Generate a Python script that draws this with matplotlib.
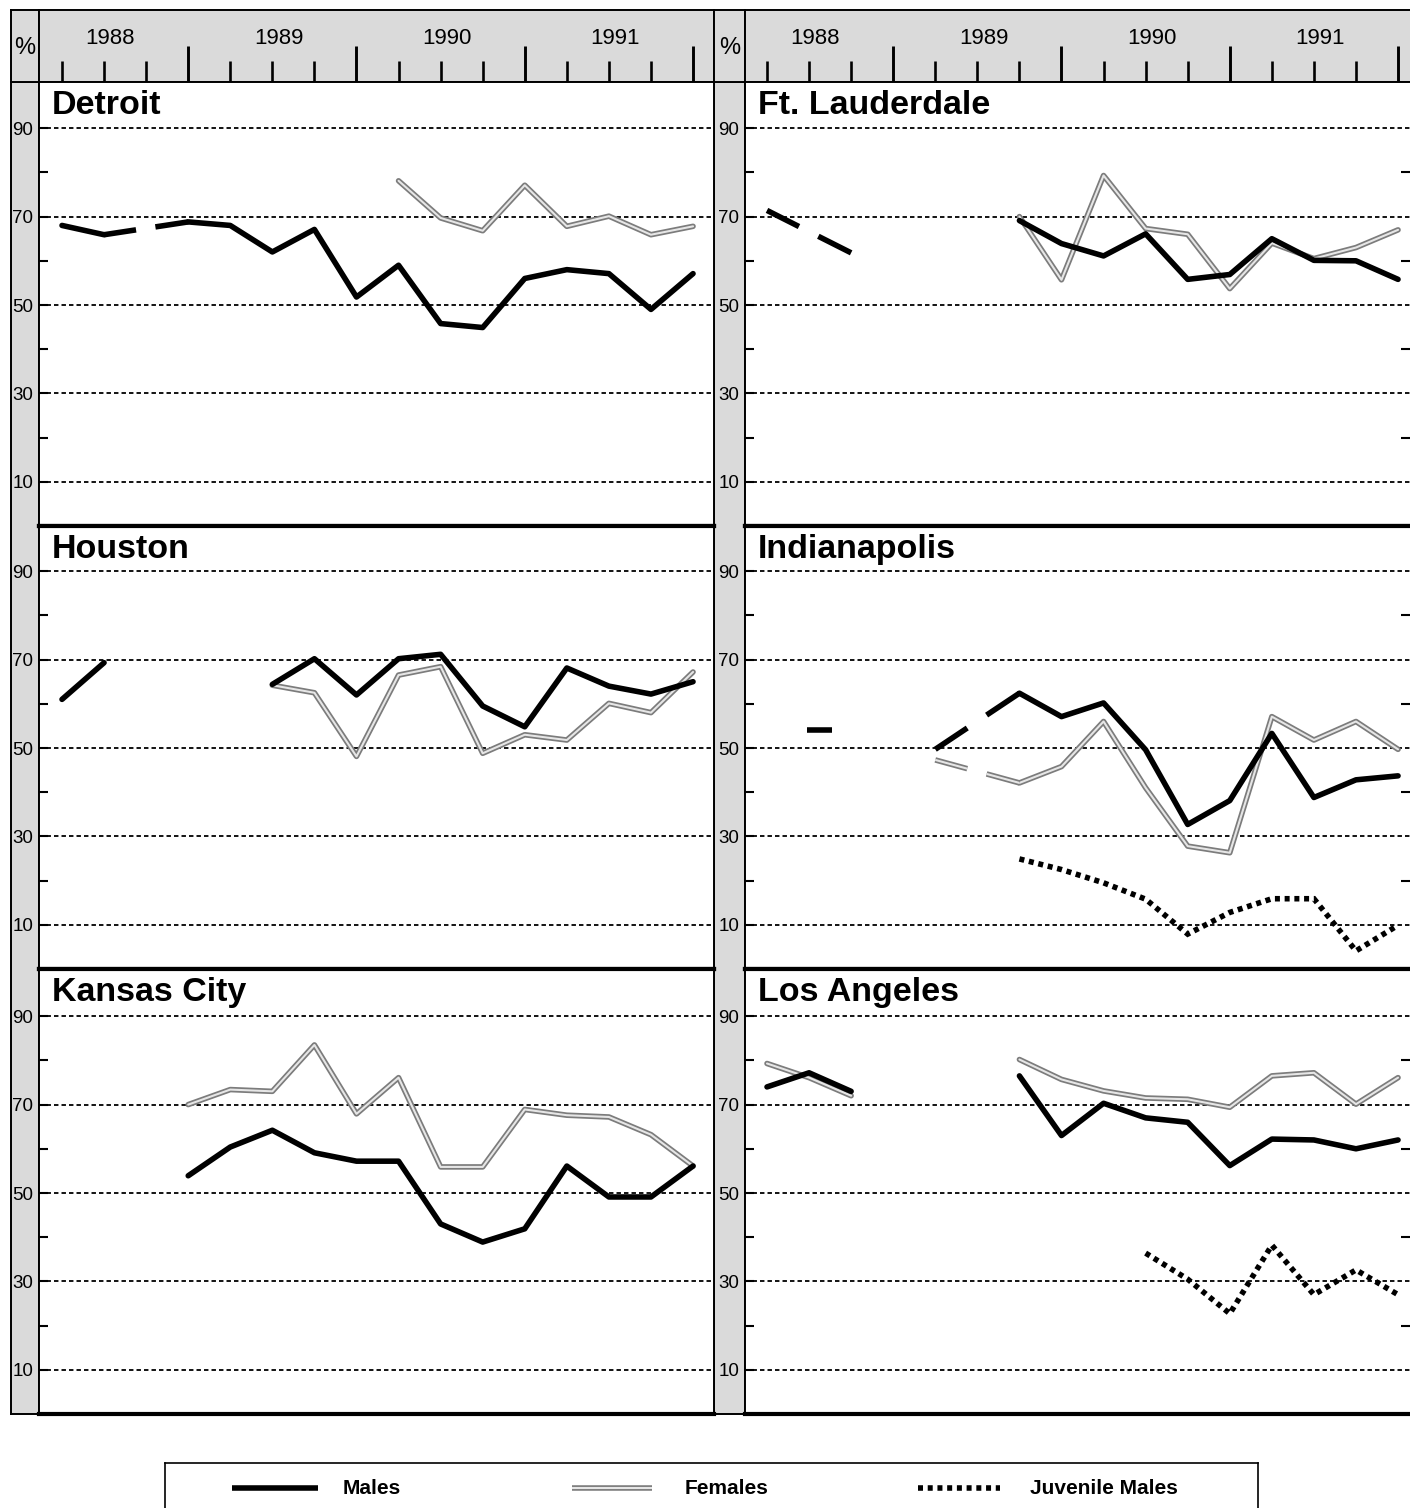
import numpy as np
import matplotlib
matplotlib.use("Agg")
import matplotlib.pyplot as plt
import matplotlib.patheffects as pe
import matplotlib.transforms as mtransforms

plt.rcParams['font.family'] = ['Liberation Sans', 'DejaVu Sans']
plt.rcParams['lines.scale_dashes'] = False

nan = np.nan

# ---------------- data ----------------
years = [1988, 1989, 1990, 1991]
quarters = [f"{y}Q{q}" for y in years for q in range(1, 5)]
y_major = [10, 30, 50, 70, 90]
y_minor = [20, 40, 60, 80]
cities = ["Detroit", "Ft. Lauderdale", "Houston", "Indianapolis", "Kansas City", "Los Angeles"]
legend_labels = ["Males", "Females", "Juvenile Males"]

detroit_males = [68.0, 65.9, nan, 68.8, 68.0, 62.0, 67.1, 51.8, 59.0, 45.8, 44.9, 56.0, 58.0, 57.1, 49.0, 57.1]
detroit_females = [nan, nan, nan, nan, nan, nan, nan, nan, 78.1, 69.7, 66.8, 77.1, 67.8, 70.1, 65.9, 67.8]

ftl_males = [71.4, nan, 61.8, nan, nan, nan, 69.1, 63.9, 61.1, 66.1, 55.8, 56.9, 65.0, 60.1, 60.0, 55.8]
ftl_females = [nan, nan, nan, nan, nan, nan, 70.0, 55.7, 79.3, 67.3, 66.0, 53.7, 64.0, 60.5, 63.0, 67.0]

houston_males = [61.0, 69.3, nan, nan, nan, 64.4, 70.2, 62.0, 70.2, 71.2, 59.5, 54.8, 68.1, 64.0, 62.2, 65.0]
houston_females = [nan, nan, nan, nan, nan, 64.2, 62.5, 48.1, 66.5, 68.4, 48.8, 53.0, 51.8, 60.1, 58.0, 67.2]

indy_males = [nan, 54.0, nan, nan, 49.7, nan, 62.4, 57.1, 60.2, 49.6, 32.7, 38.1, 53.3, 38.8, 42.8, 43.7]
indy_females = [nan, nan, nan, nan, 47.3, nan, 42.1, 45.8, 56.0, 41.0, 27.8, 26.3, 57.1, 51.8, 56.0, 49.7]
indy_juvenile = [nan, nan, nan, nan, nan, nan, 24.9, 22.5, 19.5, 15.8, 7.9, 12.8, 15.9, 15.9, 4.1, 9.9]

kc_males = [nan, nan, nan, 53.9, 60.4, 64.2, 59.1, 57.2, 57.2, 43.0, 38.9, 41.9, 56.1, 49.1, 49.1, 56.1]
kc_females = [nan, nan, nan, 70.0, 73.4, 73.0, 83.5, 67.9, 76.1, 55.9, 55.9, 68.9, 67.6, 67.2, 63.2, 56.1]

la_males = [74.0, 77.2, 73.0, nan, nan, nan, 76.5, 63.0, 70.3, 67.0, 66.0, 56.2, 62.2, 62.0, 60.0, 62.0]
la_females = [79.3, 76.1, 72.0, nan, nan, nan, 80.2, 75.7, 73.1, 71.5, 71.2, 69.4, 76.5, 77.2, 70.1, 76.1]
la_juvenile = [nan, nan, nan, nan, nan, nan, nan, nan, nan, 36.4, 30.5, 22.7, 38.2, 27.0, 32.6, 27.0]

panel_data = {
    "Detroit": {"Females": detroit_females, "Males": detroit_males},
    "Ft. Lauderdale": {"Females": ftl_females, "Males": ftl_males},
    "Houston": {"Females": houston_females, "Males": houston_males},
    "Indianapolis": {"Females": indy_females, "Males": indy_males, "Juvenile Males": indy_juvenile},
    "Kansas City": {"Females": kc_females, "Males": kc_males},
    "Los Angeles": {"Females": la_females, "Males": la_males, "Juvenile Males": la_juvenile},
}

# ---------------- styles ----------------
GRAY = '#dadada'
styles = {
    "Males": dict(color='k', lw=4.0, solid_joinstyle='round', solid_capstyle='round', zorder=4),
    "Females": dict(color='#e6e6e6', lw=1.5, solid_joinstyle='round', solid_capstyle='round', zorder=3,
                    path_effects=[pe.Stroke(linewidth=4.0, foreground='#7c7c7c'), pe.Normal()]),
    "Juvenile Males": dict(color='k', lw=4.0, linestyle=(0, (3.6, 3.4)), dash_capstyle='butt',
                           dash_joinstyle='miter', zorder=5),
}

W, H = 1410, 1508
fig = plt.figure(figsize=(W / 100, H / 100), dpi=100)


def fax(x0, y0, x1, y1, **kw):
    return fig.add_axes([x0 / W, 1 - y1 / H, (x1 - x0) / W, (y1 - y0) / H], **kw)


strip_l = [11, 714]
plot_l = [39, 745]
plot_r = [714, 1410]
x_origin = [62, 767]
QPX = 42.07
row_top = [82, 526, 969]
row_bot = [526, 969, 1414]
YPX = 4.42
head_top, head_bot = 10, 82


def xlim_for(c):
    return ((plot_l[c] - x_origin[c]) / QPX, (plot_r[c] - x_origin[c]) / QPX)


def clean(ax):
    ax.set_xticks([])
    ax.set_yticks([])


def draw_series(ax, vals, kind):
    v = np.asarray(vals, float)
    x = np.arange(len(v))
    st = dict(styles[kind])
    ax.plot(x, v, **st)
    n = len(v)
    connected = set()
    for j in range(n - 1):
        if not np.isnan(v[j]) and not np.isnan(v[j + 1]):
            connected |= {j, j + 1}
    bst = dict(st)
    if 'solid_capstyle' in bst:
        bst['solid_capstyle'] = 'butt'
    for j in range(1, n - 1):
        if np.isnan(v[j]) and not np.isnan(v[j - 1]) and not np.isnan(v[j + 1]):
            a, b = j - 1, j + 1
            connected |= {a, b}
            for t0, t1 in [(0.0, 0.38), (0.61, 1.0)]:
                xs = [x[a] + (x[b] - x[a]) * t0, x[a] + (x[b] - x[a]) * t1]
                ys = [v[a] + (v[b] - v[a]) * t0, v[a] + (v[b] - v[a]) * t1]
                ax.plot(xs, ys, **bst)
    for j in range(n):
        if not np.isnan(v[j]) and j not in connected:
            ax.plot([x[j] - 0.05, x[j] + 0.55], [v[j], v[j]], **bst)


for c in range(2):
    # gray strip behind y labels
    s = fax(strip_l[c], head_bot, plot_l[c], row_bot[2])
    s.set_facecolor(GRAY)
    clean(s)
    for sp in s.spines.values():
        sp.set_linewidth(1.4)

    # header: % cell
    pc = fax(strip_l[c], head_top, plot_l[c], head_bot)
    pc.set_facecolor(GRAY)
    clean(pc)
    for sp in pc.spines.values():
        sp.set_linewidth(1.4)
    pc.text(0.5, 0.47, '%', transform=pc.transAxes, ha='center', va='center', fontsize=17)

    # header: years with quarterly ticks
    hx = fax(plot_l[c], head_top, plot_r[c], head_bot)
    hx.set_facecolor(GRAY)
    hx.set_xlim(*xlim_for(c))
    hx.set_ylim(0, 1)
    hx.set_yticks([])
    qidx = np.arange(len(quarters))
    hx.set_xticks(qidx[3::4])
    hx.set_xticks([i for i in qidx if i % 4 != 3], minor=True)
    hx.tick_params(axis='x', which='major', direction='in', length=26, width=2.1,
                   labelbottom=False, bottom=True, top=False)
    hx.tick_params(axis='x', which='minor', direction='in', length=15, width=1.9,
                   labelbottom=False, bottom=True, top=False)
    for sp in hx.spines.values():
        sp.set_linewidth(1.4)
    if c == 1:
        hx.spines['right'].set_visible(False)
    tr = mtransforms.blended_transform_factory(hx.transData, hx.transAxes)
    for k, yr in enumerate(years):
        hx.text(4 * k + 1.15, 0.61, str(yr), transform=tr, ha='center', va='center', fontsize=16)

for r in range(3):
    for c in range(2):
        city = cities[2 * r + c]
        ax = fax(plot_l[c], row_top[r], plot_r[c], row_bot[r])
        hpx = row_bot[r] - row_top[r]
        ax.set_ylim(0, hpx / YPX)
        ax.set_xlim(*xlim_for(c))
        ax.set_xticks([])
        ax.set_yticks(y_major)
        ax.set_yticklabels([str(v) for v in y_major])
        ax.set_yticks(y_minor, minor=True)
        ax.tick_params(axis='y', which='both', direction='in', length=6.5, width=1.5,
                       pad=4, labelsize=13.5, left=True, right=False)
        if c == 1:
            ax.tick_params(axis='y', which='minor', right=True)
        ax.grid(True, axis='y', which='major', color='k', linestyle=(0, (3.2, 2.2)), linewidth=1.3)
        ax.set_axisbelow(True)
        ax.spines['left'].set_linewidth(1.4)
        ax.spines['right'].set_linewidth(1.4)
        ax.spines['top'].set_linewidth(1.4 if r == 0 else 3.0)
        ax.spines['bottom'].set_linewidth(3.0)
        if c == 1:
            ax.spines['right'].set_visible(False)
        wpx = plot_r[c] - plot_l[c]
        ax.text(13 / wpx, 1 - 23 / hpx, city, transform=ax.transAxes, fontsize=24.5,
                fontweight='bold', ha='left', va='center')
        for kind, vals in panel_data[city].items():
            draw_series(ax, vals, kind)

# ---------------- legend ----------------
lg = fax(165, 1463, 1258, 1515)
lg.set_xlim(0, 1093)
lg.set_ylim(52, 0)
clean(lg)
for sp in lg.spines.values():
    sp.set_linewidth(1.2)
sample_x = [(67, 153), (407, 487), (753, 835)]
text_x = [178, 520, 865]
for lab, (xa, xb), tx in zip(legend_labels, sample_x, text_x):
    st = dict(styles[lab])
    if 'solid_capstyle' in st:
        st['solid_capstyle'] = 'butt'
    lg.plot([xa, xb], [25, 25], **st)
    lg.text(tx, 25, lab, ha='left', va='center', fontsize=15, fontweight='bold')

fig.savefig("out.png", dpi=100)
